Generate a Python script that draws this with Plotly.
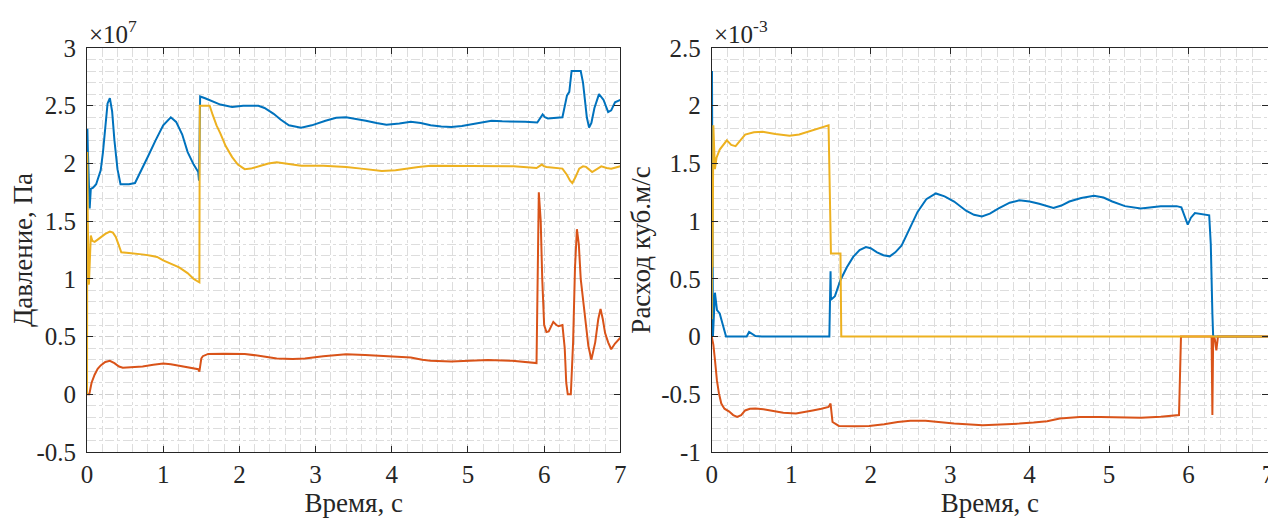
import plotly.graph_objects as go
from plotly.subplots import make_subplots

# ---------------- Data: pressure (x1e7 Pa) ----------------
p_blue_t = [0.0, 0.005, 0.012, 0.02, 0.035, 0.05, 0.08, 0.12, 0.18, 0.21, 0.24, 0.27, 0.30, 0.33, 0.36, 0.40,
            0.44, 0.55, 0.63, 0.70, 0.80, 0.90, 1.00, 1.10, 1.17, 1.25, 1.32, 1.40, 1.46, 1.47, 1.485, 1.55,
            1.64, 1.75, 1.905, 2.05, 2.17, 2.25, 2.33, 2.45, 2.54, 2.65, 2.81, 2.95, 3.13, 3.27, 3.40, 3.55,
            3.66, 3.80, 3.93, 4.10, 4.25, 4.38, 4.51, 4.65, 4.78, 4.92, 5.05, 5.20, 5.31, 5.45, 5.58, 5.75,
            5.91, 5.95, 5.98, 6.01, 6.05, 6.24, 6.27, 6.30, 6.33, 6.36, 6.48, 6.51, 6.535, 6.56, 6.59, 6.62,
            6.66, 6.72, 6.78, 6.84, 6.88, 6.93, 7.0]
p_blue_v = [2.1, 2.3, 2.1, 1.85, 1.61, 1.78, 1.79, 1.82, 1.94, 2.1, 2.35, 2.52, 2.566, 2.45, 2.2, 1.95,
            1.82, 1.82, 1.83, 1.92, 2.06, 2.2, 2.33, 2.40, 2.36, 2.25, 2.10, 1.99, 1.925, 1.85, 2.58, 2.565,
            2.54, 2.51, 2.49, 2.50, 2.50, 2.50, 2.48, 2.43, 2.38, 2.33, 2.31, 2.33, 2.37, 2.395, 2.40, 2.385,
            2.37, 2.35, 2.335, 2.345, 2.36, 2.35, 2.33, 2.32, 2.315, 2.325, 2.34, 2.36, 2.37, 2.365, 2.36, 2.36,
            2.355, 2.40, 2.425, 2.40, 2.39, 2.40, 2.50, 2.59, 2.62, 2.80, 2.80, 2.70, 2.55, 2.40, 2.31, 2.35,
            2.48, 2.60, 2.55, 2.445, 2.46, 2.53, 2.55]

p_orange_t = [0.0, 0.03, 0.06, 0.10, 0.14, 0.18, 0.24, 0.30, 0.36, 0.42, 0.47, 0.60, 0.73, 0.87, 1.00, 1.10,
              1.21, 1.35, 1.46, 1.475, 1.50, 1.52, 1.59, 1.80, 2.07, 2.30, 2.49, 2.70, 2.86, 3.10, 3.40, 3.65,
              3.93, 4.25, 4.40, 4.51, 4.78, 5.00, 5.26, 5.58, 5.90, 5.93, 5.955, 5.975, 6.00, 6.03, 6.06, 6.12,
              6.16, 6.19, 6.24, 6.27, 6.29, 6.31, 6.35, 6.38, 6.405, 6.43, 6.455, 6.48, 6.53, 6.58, 6.62, 6.67,
              6.71, 6.74, 6.77, 6.80, 6.84, 6.88, 6.93, 7.0]
p_orange_v = [0.0, 0.0, 0.10, 0.17, 0.22, 0.25, 0.28, 0.29, 0.27, 0.24, 0.23, 0.232, 0.24, 0.255, 0.266, 0.26,
              0.245, 0.23, 0.217, 0.197, 0.31, 0.33, 0.35, 0.352, 0.35, 0.33, 0.31, 0.305, 0.31, 0.33, 0.347, 0.34,
              0.33, 0.318, 0.30, 0.29, 0.283, 0.29, 0.298, 0.29, 0.27, 1.75, 1.5, 1.0, 0.6, 0.54, 0.545, 0.627,
              0.60, 0.59, 0.60, 0.40, 0.10, 0.0, 0.0, 0.45, 1.1, 1.43, 1.3, 1.0, 0.68, 0.42, 0.30, 0.45,
              0.65, 0.74, 0.65, 0.53, 0.45, 0.39, 0.44, 0.49]

p_yellow_t = [0.0, 0.004, 0.01, 0.025, 0.04, 0.05, 0.07, 0.10, 0.14, 0.18, 0.24, 0.30, 0.34, 0.38, 0.42, 0.45,
              0.55, 0.63, 0.75, 0.84, 0.92, 1.00, 1.10, 1.21, 1.32, 1.40, 1.46, 1.475, 1.48, 1.61, 1.65, 1.70,
              1.75, 1.82, 1.905, 1.98, 2.07, 2.15, 2.28, 2.38, 2.49, 2.60, 2.81, 3.10, 3.40, 3.60, 3.87, 4.05,
              4.19, 4.35, 4.51, 4.90, 5.26, 5.60, 5.90, 5.94, 5.97, 6.00, 6.03, 6.24, 6.30, 6.34, 6.37, 6.41,
              6.46, 6.51, 6.55, 6.63, 6.69, 6.75, 6.82, 6.88, 6.94, 7.0]
p_yellow_v = [0.0, 2.1, 1.5, 0.95, 1.2, 1.375, 1.33, 1.32, 1.34, 1.36, 1.39, 1.41, 1.40, 1.36, 1.28, 1.23,
              1.225, 1.22, 1.21, 1.20, 1.19, 1.16, 1.13, 1.10, 1.05, 1.00, 0.975, 0.97, 2.5, 2.5, 2.42, 2.33,
              2.26, 2.15, 2.055, 1.99, 1.95, 1.955, 1.98, 2.00, 2.01, 2.00, 1.98, 1.98, 1.97, 1.955, 1.935, 1.94,
              1.955, 1.97, 1.98, 1.98, 1.98, 1.975, 1.96, 1.98, 1.99, 1.975, 1.97, 1.955, 1.90, 1.85, 1.83, 1.88,
              1.955, 1.975, 1.97, 1.925, 1.95, 1.975, 1.96, 1.955, 1.965, 1.975]

# ---------------- Data: flow (x1e-3 m3/s) ----------------
q_blue_t = [0.0, 0.003, 0.008, 0.015, 0.03, 0.04, 0.066, 0.10, 0.14, 0.18, 0.44, 0.47, 0.55, 0.63, 1.48, 1.495,
            1.50, 1.55, 1.62, 1.70, 1.78, 1.86, 1.94, 2.00, 2.08, 2.16, 2.24, 2.31, 2.39, 2.49, 2.59, 2.70,
            2.82, 2.93, 3.05, 3.20, 3.30, 3.40, 3.50, 3.61, 3.75, 3.87, 4.00, 4.12, 4.30, 4.40, 4.50, 4.65,
            4.81, 4.93, 5.04, 5.20, 5.40, 5.65, 5.85, 5.91, 5.95, 5.99, 6.03, 6.08, 6.26, 6.28, 6.30, 6.31, 7.0]
q_blue_v = [1.25, 2.3, 1.3, 0.0, 0.25, 0.38, 0.23, 0.20, 0.10, 0.0, 0.0, 0.04, 0.005, 0.0, 0.0, 0.565,
            0.32, 0.35, 0.49, 0.60, 0.69, 0.75, 0.775, 0.765, 0.73, 0.705, 0.695, 0.73, 0.79, 0.93, 1.08, 1.19,
            1.24, 1.215, 1.17, 1.09, 1.055, 1.04, 1.065, 1.11, 1.16, 1.18, 1.17, 1.15, 1.115, 1.135, 1.17, 1.20,
            1.22, 1.205, 1.17, 1.13, 1.11, 1.13, 1.13, 1.12, 1.05, 0.97, 1.03, 1.07, 1.05, 0.80, 0.20, 0.0, 0.0]

q_orange_t = [0.0, 0.02, 0.04, 0.065, 0.09, 0.12, 0.16, 0.22, 0.27, 0.32, 0.37, 0.42, 0.48, 0.55, 0.65, 0.76,
              0.90, 1.06, 1.17, 1.27, 1.38, 1.47, 1.495, 1.52, 1.60, 1.80, 1.98, 2.17, 2.34, 2.50, 2.69, 2.87,
              3.05, 3.41, 3.65, 3.87, 4.05, 4.22, 4.38, 4.63, 4.89, 5.15, 5.40, 5.65, 5.88, 5.905, 6.29, 6.30,
              6.31, 6.33, 6.35, 6.37, 7.0]
q_orange_v = [0.0, -0.07, -0.2, -0.38, -0.49, -0.58, -0.625, -0.65, -0.68, -0.696, -0.68, -0.64, -0.625, -0.623,
              -0.63, -0.643, -0.66, -0.667, -0.655, -0.64, -0.625, -0.61, -0.58, -0.74, -0.774, -0.778, -0.774,
              -0.76, -0.74, -0.73, -0.73, -0.745, -0.754, -0.768, -0.762, -0.754, -0.745, -0.733, -0.71, -0.696,
              -0.696, -0.702, -0.704, -0.695, -0.68, 0.0, 0.0, -0.68, 0.0, -0.02, -0.12, 0.0, 0.0]

q_yellow_t = [0.0, 0.005, 0.01, 0.02, 0.04, 0.06, 0.10, 0.19, 0.245, 0.30, 0.36, 0.42, 0.53, 0.64, 0.80, 0.98,
              1.10, 1.21, 1.35, 1.47, 1.50, 1.62, 1.63, 7.0]
q_yellow_v = [0.15, 1.3, 0.6, 1.83, 1.45, 1.55, 1.62, 1.70, 1.66, 1.65, 1.70, 1.75, 1.77, 1.775, 1.755, 1.74,
              1.75, 1.775, 1.80, 1.83, 0.72, 0.72, 0.0, 0.0]

x_ticks = [0, 1, 2, 3, 4, 5, 6, 7]
p_ticks = [-0.5, 0, 0.5, 1, 1.5, 2, 2.5, 3]
p_tick_text = ["-0.5", "0", "0.5", "1", "1.5", "2", "2.5", "3"]
q_ticks = [-1, -0.5, 0, 0.5, 1, 1.5, 2, 2.5]
q_tick_text = ["-1", "-0.5", "0", "0.5", "1", "1.5", "2", "2.5"]

BLUE, ORANGE, YELLOW = "#0072BD", "#D95319", "#EDB120"
FONT = "Liberation Serif, Times New Roman, DejaVu Serif, serif"
TXT = "#262626"

fig = make_subplots(rows=1, cols=2)

for t, v, c in [(p_blue_t, p_blue_v, BLUE), (p_orange_t, p_orange_v, ORANGE), (p_yellow_t, p_yellow_v, YELLOW)]:
    fig.add_trace(go.Scatter(x=t, y=v, mode="lines", line=dict(color=c, width=2),
                             showlegend=False), row=1, col=1)
for t, v, c in [(q_blue_t, q_blue_v, BLUE), (q_orange_t, q_orange_v, ORANGE), (q_yellow_t, q_yellow_v, YELLOW)]:
    fig.add_trace(go.Scatter(x=t, y=v, mode="lines", line=dict(color=c, width=2),
                             showlegend=False), row=1, col=2)

axis_common = dict(
    showline=True, linecolor=TXT, linewidth=1, mirror="allticks",
    ticks="inside", ticklen=6, tickcolor=TXT, tickwidth=1,
    showgrid=True, gridcolor="#cfcfcf", griddash="dashdot", gridwidth=1,
    zeroline=False,
    tickfont=dict(family=FONT, size=25, color=TXT),
)

fig.update_xaxes(**axis_common, range=[0, 7], tickvals=x_ticks, ticktext=[str(v) for v in x_ticks],
                 ticklabelstandoff=0,
                 minor=dict(dtick=0.2, tick0=0, showgrid=True, gridcolor="#dddddd", griddash="dashdot", ticks=""),
                 title=dict(text="Время, с", font=dict(family=FONT, size=27, color=TXT), standoff=2))
fig.update_yaxes(**axis_common, ticklabelstandoff=5,
                 minor=dict(dtick=0.1, tick0=0, showgrid=True, gridcolor="#dddddd", griddash="dashdot", ticks=""))

fig.update_yaxes(range=[-0.5, 3], tickvals=p_ticks, ticktext=p_tick_text,
                 title=dict(text="Давление, Па", font=dict(family=FONT, size=27, color=TXT), standoff=2),
                 row=1, col=1)
fig.update_yaxes(range=[-1, 2.5], tickvals=q_ticks, ticktext=q_tick_text,
                 title=dict(text="Расход куб.м/с", font=dict(family=FONT, size=27, color=TXT), standoff=2),
                 row=1, col=2)

fig.update_layout(
    xaxis=dict(domain=[0, 0.4516]),
    xaxis2=dict(domain=[0.529, 1.0]),
    width=1268, height=514,
    margin=dict(l=79, r=2, t=40, b=70),
    paper_bgcolor="white", plot_bgcolor="white",
    font=dict(family=FONT, color=TXT),
)

fig.add_annotation(text="×10<sup>7</sup>", xref="paper", yref="paper", x=0.0, y=1.0,
                   xanchor="left", yanchor="bottom", showarrow=False, yshift=-2,
                   font=dict(family=FONT, size=25, color=TXT))
fig.add_annotation(text="×10<sup>-3</sup>", xref="paper", yref="paper", x=0.529, y=1.0,
                   xanchor="left", yanchor="bottom", showarrow=False, yshift=-2,
                   font=dict(family=FONT, size=25, color=TXT))

fig.write_html("out.html")
